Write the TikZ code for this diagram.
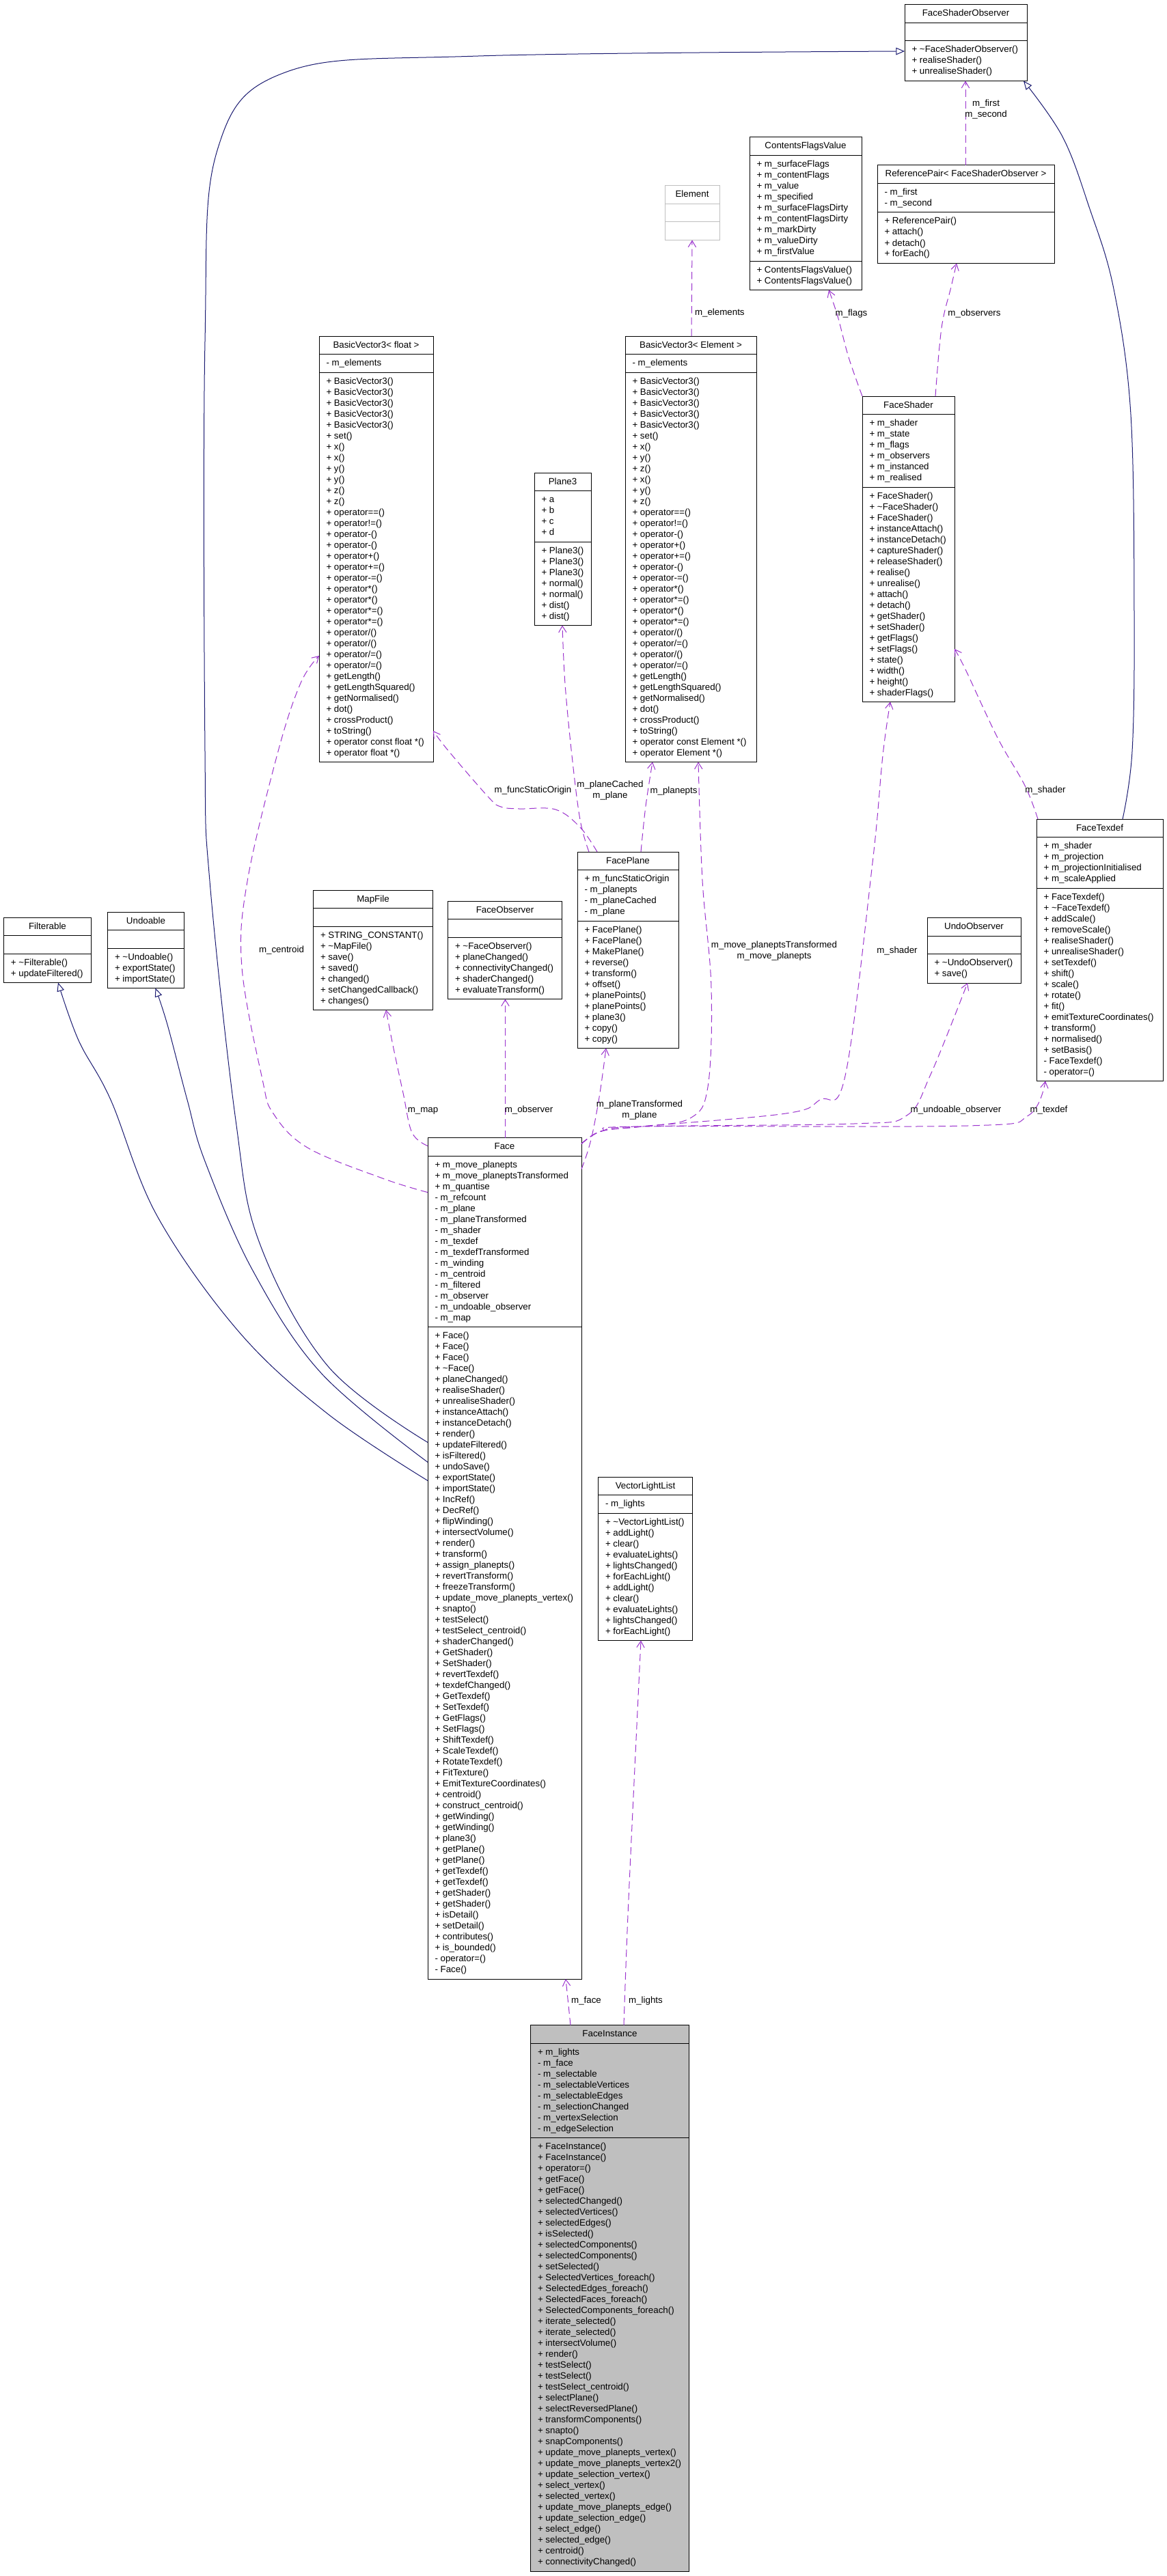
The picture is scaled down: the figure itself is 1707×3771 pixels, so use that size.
\documentclass[tikz,border=0pt]{standalone}
\usepackage{fontspec}
\setmainfont{Liberation Sans}
\usetikzlibrary{arrows.meta,calc}
\definecolor{usecol}{HTML}{9A32CD}
\definecolor{inhcol}{HTML}{191970}
\definecolor{greyc}{HTML}{BFBFBF}
\tikzset{
 umlbox/.style={draw=black, fill=white, line width=0.75pt, inner sep=0pt, outer sep=0pt},
 umlsep/.style={draw=black, line width=0.75pt},
 umltext/.style={inner sep=0pt, outer sep=0pt},
 inh/.style={draw=inhcol, line width=0.75pt, -{Triangle[length=9.5pt, width=8pt, fill=white]}},
 uses/.style={draw=usecol, line width=0.75pt, dash pattern=on 8pt off 4.5pt, -{Straight Barb[length=7pt, width=8.5pt]}},
 lbl/.style={inner sep=0pt, outer sep=0pt, anchor=base},
}
% #1 name, #2 x, #3 y, #4 width, #5 title, #6 n attrs, #7 attrs, #8 n ops, #9 ops
\newcommand\umlclass[9]{%
  \pgfmathsetmacro\ucA{#3+26.5}%
  \pgfmathsetmacro\ucB{\ucA+16*max(#6,1)+10.5}%
  \pgfmathsetmacro\ucC{\ucB+16*max(#8,1)+10.5}%
  \pgfmathsetmacro\ucH{(\ucC-#3)*0.75}%
  \pgfmathsetmacro\ucW{#4*0.75}%
  \node[umlbox, anchor=north west, minimum width=\ucW pt, minimum height=\ucH pt] (#1) at (#2,#3) {};
  \draw[umlsep] (#2,\ucA) -- (#2+#4,\ucA);
  \draw[umlsep] (#2,\ucB) -- (#2+#4,\ucB);
  \node[umltext, anchor=base] (#1-title) at (#2+#4/2,#3+17) {#5};
  \foreach \tx [count=\ti from 0] in {#7} {\node[umltext, anchor=base west] (#1-a\ti) at (#2+10.5,\ucA+17+16*\ti) {\tx};}
  \foreach \tx [count=\ti from 0] in {#9} {\node[umltext, anchor=base west] (#1-o\ti) at (#2+10.5,\ucB+17+16*\ti) {\tx};}
}
\begin{document}
\begin{tikzpicture}[x=0.75pt, y=-0.75pt, font={\fontsize{10pt}{12pt}\selectfont}]
\useasboundingbox (0,0) rectangle (1707,3771);

% ---------------- classes ----------------
\umlclass{fso}{1324}{7}{179}{FaceShaderObserver}{0}{}{3}{+ \textasciitilde{}FaceShaderObserver(), + realiseShader(), + unrealiseShader()}

\umlclass{cfv}{1097}{201}{164}{ContentsFlagsValue}{9}{+ m\_surfaceFlags, + m\_contentFlags, + m\_value, + m\_specified, + m\_surfaceFlagsDirty, + m\_contentFlagsDirty, + m\_markDirty, + m\_valueDirty, + m\_firstValue}{2}{+ ContentsFlagsValue(), + ContentsFlagsValue()}

\umlclass{rp}{1284}{242}{259}{ReferencePair< FaceShaderObserver >}{2}{- m\_first, - m\_second}{4}{+ ReferencePair(), + attach(), + detach(), + forEach()}

\begin{scope}[umlbox/.style={draw=greyc, fill=white, line width=0.75pt, inner sep=0pt, outer sep=0pt}, umlsep/.style={draw=greyc, line width=0.75pt}]
\umlclass{elem}{973}{272}{80}{Element}{0}{}{0}{}
\end{scope}

\umlclass{bvf}{467}{492}{167}{BasicVector3< float >}{1}{- m\_elements}{35}{+ BasicVector3(), + BasicVector3(), + BasicVector3(), + BasicVector3(), + BasicVector3(), + set(), + x(), + x(), + y(), + y(), + z(), + z(), + operator==(), + operator!=(), + operator-(), + operator-(), + operator+(), + operator+=(), + operator-=(), + operator*(), + operator*(), + operator*=(), + operator*=(), + operator/(), + operator/(), + operator/=(), + operator/=(), + getLength(), + getLengthSquared(), + getNormalised(), + dot(), + crossProduct(), + toString(), + operator const float *(), + operator float *()}

\umlclass{bve}{915}{492}{192}{BasicVector3< Element >}{1}{- m\_elements}{35}{+ BasicVector3(), + BasicVector3(), + BasicVector3(), + BasicVector3(), + BasicVector3(), + set(), + x(), + y(), + z(), + x(), + y(), + z(), + operator==(), + operator!=(), + operator-(), + operator+(), + operator+=(), + operator-(), + operator-=(), + operator*(), + operator*=(), + operator*(), + operator*=(), + operator/(), + operator/=(), + operator/(), + operator/=(), + getLength(), + getLengthSquared(), + getNormalised(), + dot(), + crossProduct(), + toString(), + operator const Element *(), + operator Element *()}

\umlclass{pl3}{782}{692}{83}{Plane3}{4}{+ a, + b, + c, + d}{7}{+ Plane3(), + Plane3(), + Plane3(), + normal(), + normal(), + dist(), + dist()}

\umlclass{fsh}{1262}{580}{135}{FaceShader}{6}{+ m\_shader, + m\_state, + m\_flags, + m\_observers, + m\_instanced, + m\_realised}{19}{+ FaceShader(), + \textasciitilde{}FaceShader(), + FaceShader(), + instanceAttach(), + instanceDetach(), + captureShader(), + releaseShader(), + realise(), + unrealise(), + attach(), + detach(), + getShader(), + setShader(), + getFlags(), + setFlags(), + state(), + width(), + height(), + shaderFlags()}

\umlclass{fpl}{845}{1247}{148}{FacePlane}{4}{+ m\_funcStaticOrigin, - m\_planepts, - m\_planeCached, - m\_plane}{11}{+ FacePlane(), + FacePlane(), + MakePlane(), + reverse(), + transform(), + offset(), + planePoints(), + planePoints(), + plane3(), + copy(), + copy()}

\umlclass{uob}{1357}{1343.5}{137}{UndoObserver}{0}{}{2}{+ \textasciitilde{}UndoObserver(), + save()}

\umlclass{ftd}{1517}{1199}{185}{FaceTexdef}{4}{+ m\_shader, + m\_projection, + m\_projectionInitialised, + m\_scaleApplied}{17}{+ FaceTexdef(), + \textasciitilde{}FaceTexdef(), + addScale(), + removeScale(), + realiseShader(), + unrealiseShader(), + setTexdef(), + shift(), + scale(), + rotate(), + fit(), + emitTextureCoordinates(), + transform(), + normalised(), + setBasis(), - FaceTexdef(), - operator=()}

\umlclass{flt}{5.5}{1343}{128}{Filterable}{0}{}{2}{+ \textasciitilde{}Filterable(), + updateFiltered()}

\umlclass{und}{157.5}{1335}{112}{Undoable}{0}{}{3}{+ \textasciitilde{}Undoable(), + exportState(), + importState()}

\umlclass{map}{458.5}{1303}{175}{MapFile}{0}{}{7}{+ STRING\_CONSTANT(), + \textasciitilde{}MapFile(), + save(), + saved(), + changed(), + setChangedCallback(), + changes()}

\umlclass{fob}{655.5}{1319}{167}{FaceObserver}{0}{}{5}{+ \textasciitilde{}FaceObserver(), + planeChanged(), + connectivityChanged(), + shaderChanged(), + evaluateTransform()}

\umlclass{face}{626}{1665.5}{225}{Face}{15}{+ m\_move\_planepts, + m\_move\_planeptsTransformed, + m\_quantise, - m\_refcount, - m\_plane, - m\_planeTransformed, - m\_shader, - m\_texdef, - m\_texdefTransformed, - m\_winding, - m\_centroid, - m\_filtered, - m\_observer, - m\_undoable\_observer, - m\_map}{59}{+ Face(), + Face(), + Face(), + \textasciitilde{}Face(), + planeChanged(), + realiseShader(), + unrealiseShader(), + instanceAttach(), + instanceDetach(), + render(), + updateFiltered(), + isFiltered(), + undoSave(), + exportState(), + importState(), + IncRef(), + DecRef(), + flipWinding(), + intersectVolume(), + render(), + transform(), + assign\_planepts(), + revertTransform(), + freezeTransform(), + update\_move\_planepts\_vertex(), + snapto(), + testSelect(), + testSelect\_centroid(), + shaderChanged(), + GetShader(), + SetShader(), + revertTexdef(), + texdefChanged(), + GetTexdef(), + SetTexdef(), + GetFlags(), + SetFlags(), + ShiftTexdef(), + ScaleTexdef(), + RotateTexdef(), + FitTexture(), + EmitTextureCoordinates(), + centroid(), + construct\_centroid(), + getWinding(), + getWinding(), + plane3(), + getPlane(), + getPlane(), + getTexdef(), + getTexdef(), + getShader(), + getShader(), + isDetail(), + setDetail(), + contributes(), + is\_bounded(), - operator=(), - Face()}

\umlclass{vll}{875.5}{2162}{138}{VectorLightList}{1}{- m\_lights}{11}{+ \textasciitilde{}VectorLightList(), + addLight(), + clear(), + evaluateLights(), + lightsChanged(), + forEachLight(), + addLight(), + clear(), + evaluateLights(), + lightsChanged(), + forEachLight()}

\begin{scope}[umlbox/.style={draw=black, fill=greyc, line width=0.75pt, inner sep=0pt, outer sep=0pt}]
\umlclass{fin}{776.5}{2964.5}{232}{FaceInstance}{8}{+ m\_lights, - m\_face, - m\_selectable, - m\_selectableVertices, - m\_selectableEdges, - m\_selectionChanged, - m\_vertexSelection, - m\_edgeSelection}{39}{+ FaceInstance(), + FaceInstance(), + operator=(), + getFace(), + getFace(), + selectedChanged(), + selectedVertices(), + selectedEdges(), + isSelected(), + selectedComponents(), + selectedComponents(), + setSelected(), + SelectedVertices\_foreach(), + SelectedEdges\_foreach(), + SelectedFaces\_foreach(), + SelectedComponents\_foreach(), + iterate\_selected(), + iterate\_selected(), + intersectVolume(), + render(), + testSelect(), + testSelect(), + testSelect\_centroid(), + selectPlane(), + selectReversedPlane(), + transformComponents(), + snapto(), + snapComponents(), + update\_move\_planepts\_vertex(), + update\_move\_planepts\_vertex2(), + update\_selection\_vertex(), + select\_vertex(), + selected\_vertex(), + update\_move\_planepts\_edge(), + update\_selection\_edge(), + select\_edge(), + selected\_edge(), + centroid(), + connectivityChanged()}
\end{scope}

% ---------------- attachment points ----------------
\coordinate (e1s) at ($(face.north west)+(0,446)$);
\coordinate (e1t) at ($(fso.north west)+(0,68)$);
\coordinate (e2s) at ($(face.north west)+(0,475)$);
\coordinate (e2t) at ($(und.south west)+(70,0)$);
\coordinate (e3s) at ($(face.north west)+(0,502)$);
\coordinate (e3t) at ($(flt.south west)+(79.5,0)$);
\coordinate (e4s) at ($(ftd.north west)+(126,0)$);
\coordinate (e4t) at ($(fso.south east)+(-5,0)$);
\coordinate (e5s) at ($(rp.north west)+(129,0)$);
\coordinate (e5t) at ($(fso.south west)+(89,0)$);
\coordinate (e6s) at (fsh.north west);
\coordinate (e6t) at ($(cfv.south west)+(116,0)$);
\coordinate (e7s) at ($(fsh.north west)+(107,0)$);
\coordinate (e7t) at ($(rp.south west)+(116,0)$);
\coordinate (e8s) at ($(bve.north west)+(97,0)$);
\coordinate (e9s) at ($(ftd.north west)+(2,0)$);
\coordinate (e9t) at ($(fsh.north east)+(0,370)$);
\coordinate (fne) at ($(face.north east)+(0,9)$);
\coordinate (e10t) at ($(fsh.south west)+(41,0)$);
\coordinate (e11t) at ($(bve.south west)+(107,0)$);
\coordinate (e12s) at ($(face.north east)+(0,46)$);
\coordinate (e12t) at ($(fpl.south west)+(42,0)$);
\coordinate (e13t) at ($(uob.south west)+(59,0)$);
\coordinate (e14t) at ($(ftd.south west)+(13,0)$);
\coordinate (e15s) at ($(face.north west)+(0,12)$);
\coordinate (e15t) at ($(map.south west)+(106.5,0)$);
\coordinate (e16s) at ($(face.north west)+(113.5,0)$);
\coordinate (e16t) at ($(fob.south west)+(84,0)$);
\coordinate (e17s) at ($(face.north west)+(0,80)$);
\coordinate (e17t) at ($(bvf.north west)+(0,468)$);
\coordinate (e18s) at ($(fpl.north west)+(29,0)$);
\coordinate (e18t) at ($(bvf.north east)+(0,578)$);
\coordinate (e19s) at ($(fpl.north west)+(17,0)$);
\coordinate (e19t) at ($(pl3.south west)+(41,0)$);
\coordinate (e20s) at ($(fpl.north west)+(93,0)$);
\coordinate (e20t) at ($(bve.south west)+(40,0)$);
\coordinate (e21s) at ($(fin.north west)+(58.5,0)$);
\coordinate (e21t) at ($(face.south west)+(202,0)$);
\coordinate (e22s) at ($(fin.north west)+(136.5,0)$);
\coordinate (e22t) at ($(vll.south west)+(62.5,0)$);

% ---------------- inheritance ----------------
\draw[inh] plot[smooth, tension=0.6] coordinates {(e1s) (480,2000) (380,1820) (345,1640) (307,1290) (300,1100) (300,500) (318,220) (420,105) (700,82) (e1t)};
\draw[inh] plot[smooth, tension=0.6] coordinates {(e2s) (470,2010) (370,1860) (300,1700) (274,1610) (245,1500) (e2t)};
\draw[inh] plot[smooth, tension=0.6] coordinates {(e3s) (480,2070) (350,1950) (230,1780) (162,1610) (115,1523) (e3t)};
\draw[inh] plot[smooth, tension=0.6] coordinates {(e4s) (1657,1100) (1660,900) (1655,607) (1630,423) (1594,303) (1555,200) (e4t)};

% ---------------- usage ----------------
\draw[uses] (e5s) -- (e5t);
\draw[uses] plot[smooth, tension=0.6] coordinates {(e6s) (1242,523) (1226,463) (e6t)};
\draw[uses] plot[smooth, tension=0.6] coordinates {(e7s) (1378,480) (1392,420) (e7t)};
\draw[uses] (e8s) -- (elem.south);
\draw[uses] plot[smooth, tension=0.6] coordinates {(e9s) (1500,1150) (1460,1080) (1413,980) (e9t)};
\draw[uses] plot[smooth, tension=0.6] coordinates {(fne) (880,1656) (940,1649) (1150,1630) (1200,1610) (1237,1575) (1277,1263) (1292,1106) (e10t)};
\draw[uses] plot[smooth, tension=0.6] coordinates {(fne) (880,1656) (940,1649) (1010,1637) (1036,1591) (1041,1446) (1028,1289) (e11t)};
\draw[uses] plot[smooth, tension=0.6] coordinates {(e12s) (860,1686) (868,1655) (878,1600) (e12t)};
\draw[uses] plot[smooth, tension=0.6] coordinates {(fne) (880,1656) (940,1649) (1250,1645) (1327,1633) (1362,1573) (e13t)};
\draw[uses] plot[smooth, tension=0.6] coordinates {(fne) (880,1656) (940,1649) (1416,1648) (1505,1633) (e14t)};
\draw[uses] plot[smooth, tension=0.6] coordinates {(e15s) (603,1658) (590,1600) (575,1530) (e15t)};
\draw[uses] (e16s) -- (e16t);
\draw[uses] plot[smooth, tension=0.6] coordinates {(e17s) (560,1725) (450,1680) (400,1630) (384,1580) (354,1416) (362,1290) (407,1100) (440,1000) (e17t)};
\draw[uses] plot[smooth, tension=0.6] coordinates {(e18s) (849,1211) (813,1185) (760,1184) (733,1181) (715,1167) (657,1100) (e18t)};
\draw[uses] plot[smooth, tension=0.6] coordinates {(e19s) (849,1200) (837,1106) (827,1001) (e19t)};
\draw[uses] plot[smooth, tension=0.6] coordinates {(e20s) (945,1180) (e20t)};
\draw[uses] (e21s) -- (e21t);
\draw[uses] plot[smooth, tension=0.6] coordinates {(e22s) (920,2780) (e22t)};

% ---------------- labels ----------------
\node[lbl] (l5a) at (1443,156) {m\_first};
\node[lbl] (l5b) at (1443,172) {m\_second};
\node[lbl] (l6) at (1246,462) {m\_flags};
\node[lbl] (l7) at (1426,462) {m\_observers};
\node[lbl, anchor=base west] (l8) at (1017,461) {m\_elements};
\node[lbl] (l9) at (1530,1160) {m\_shader};
\node[lbl] (l10) at (1313,1395) {m\_shader};
\node[lbl] (l18) at (780,1160) {m\_funcStaticOrigin};
\node[lbl] (l19a) at (893,1152) {m\_planeCached};
\node[lbl] (l19b) at (893,1168) {m\_plane};
\node[lbl] (l20) at (986,1161) {m\_planepts};
\node[lbl] (l11a) at (1133,1387) {m\_move\_planeptsTransformed};
\node[lbl] (l11b) at (1133,1403) {m\_move\_planepts};
\node[lbl] (l12a) at (936,1620) {m\_planeTransformed};
\node[lbl] (l12b) at (936,1636) {m\_plane};
\node[lbl] (l15) at (619,1628) {m\_map};
\node[lbl] (l16) at (774,1628) {m\_observer};
\node[lbl] (l13) at (1399,1628) {m\_undoable\_observer};
\node[lbl] (l14) at (1535,1628) {m\_texdef};
\node[lbl] (l17) at (412,1394) {m\_centroid};
\node[lbl] (l21) at (858,2932) {m\_face};
\node[lbl] (l22) at (945,2932) {m\_lights};
\end{tikzpicture}
\end{document}
